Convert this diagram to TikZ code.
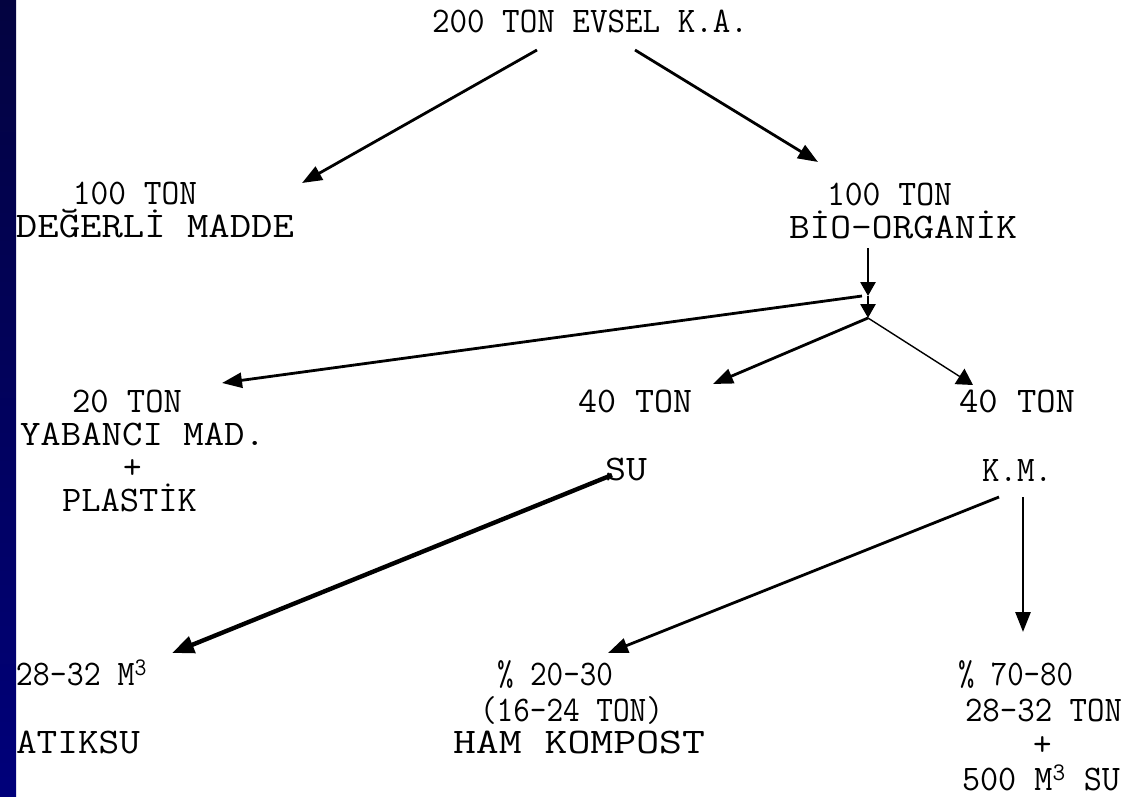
\documentclass[tikz,border=0pt]{standalone}
\usepackage{fontspec}
\usepackage{graphicx}
\usetikzlibrary{arrows.meta}
\definecolor{barTop}{RGB}{3,3,64}
\definecolor{barBot}{RGB}{0,0,122}
\newcommand{\mylfont}{\ttfamily\fontsize{36}{33}\selectfont\lineskiplimit=-100pt\relax}
\newcommand{\tline}[3]{\hspace*{#1pt}\rule[-6pt]{0pt}{32pt}\resizebox{#2pt}{\height}{#3}}
\newcommand{\tplain}[2]{\hspace*{#1pt}\rule[-6pt]{0pt}{32pt}#2}
\newcommand{\cube}{\textsuperscript{3}}
\begin{document}
\begin{tikzpicture}[x=1pt,y=-1pt,
  lbl/.style={inner sep=0pt, outer sep=0pt, anchor=north west, align=left,
    font=\mylfont},
  arr/.style={line width=2.8pt, -{Triangle[length=20pt,width=15pt]}},
  arrsmall/.style={line width=2.8pt, -{Triangle[length=14pt,width=15pt]}},
  thinarr/.style={line width=1.4pt, -{Triangle[length=16pt,width=18pt]}},
  thickarr/.style={line width=4.4pt, -{Triangle[length=22pt,width=17pt]}}]
\useasboundingbox (0,0) rectangle (1129,797);
\fill[white] (0,0) rectangle (1129,797);
\shade[top color=barTop, bottom color=barBot] (0,0) rectangle (16,797);

\node[lbl] (title) at (432,7) {\tline{0}{316}{200 TON EVSEL K.A.}};
\node[lbl] (deg) at (16,178) {\tline{57}{124}{100 TON}\\ \tline{0}{278}{DEĞERLİ MADDE}};
\node[lbl] (bio) at (789,179) {\tline{38}{125}{100 TON}\\ \tline{0}{228}{BİO-ORGANİK}};
\node[lbl] (yab) at (20,386) {\tline{52}{110}{20 TON}\\ \tline{0}{245}{YABANCI MAD.}\\ \tplain{103}{+}\\ \tline{42}{135}{PLASTİK}};
\node[lbl] (mid) at (578,386) {\tline{0}{114}{40 TON}\\[35pt] \tline{27}{42}{SU}};
\node[lbl] (rgt) at (959,386) {\tline{0}{116}{40 TON}\\[36pt] \tline{23}{70}{K.M.}};
\node[lbl] (atik) at (16,659) {\tline{0}{131}{28-32 M\cube}\\[35pt] \tline{0}{124}{ATIKSU}};
\node[lbl] (ham) at (453,659) {\tline{44}{116}{\% 20-30}\\[3pt] \tline{27}{183}{(16-24 TON)}\\[-1pt] \tline{0}{252}{HAM KOMPOST}};
\node[lbl] (r70) at (958,659) {\tline{0}{115}{\% 70-80}\\[3pt] \tline{7}{157}{28-32 TON}\\[1pt] \tplain{75}{+}\\[2pt] \tline{4}{158}{500 M\cube{} SU}};

\coordinate (j1) at (868,296);
\coordinate (j2) at (868,318);

\draw[arr] ([shift={(105,43)}]title.north west) -- ([shift={(286,5)}]deg.north west);
\draw[arr] ([shift={(203,43)}]title.north west) -- ([shift={(29,-17)}]bio.north west);
\draw[arrsmall] ([shift={(79,69)}]bio.north west) -- (j1);
\draw[arrsmall] (j1) -- (j2);
\draw[arr] ([xshift=-6pt]j1) -- ([shift={(202,-3)}]yab.north west);
\draw[arr] (j2) -- ([shift={(135,-2)}]mid.north west);
\draw[thinarr] (j2) -- ([shift={(14,-1)}]rgt.north west);
\draw[thickarr] ([shift={(34,89)}]mid.north west) -- ([shift={(156,-6)}]atik.north west);
\draw[arr] ([shift={(40,111)}]rgt.north west) -- ([shift={(155,-6)}]ham.north west);
\draw[arr] ([shift={(64,111)}]rgt.north west) -- ([shift={(65,-27)}]r70.north west);
\end{tikzpicture}
\end{document}
